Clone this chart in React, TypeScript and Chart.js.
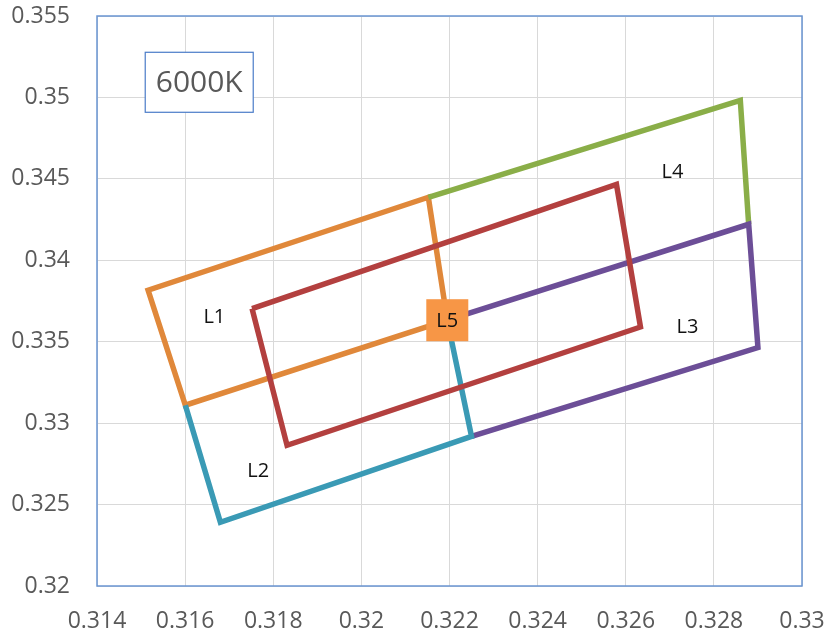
import { useEffect, useRef } from "react";
import { Chart, registerables } from "chart.js";

Chart.register(...registerables);

// Vertices (CIE x, y) of each bin outline
const L5Center = { x: 0.32195, y: 0.33632 };
const redX = [0.317519, 0.325789, 0.326334, 0.318313, 0.317519];
const redY = [0.337033, 0.344666, 0.335903, 0.328639, 0.337033];
const tealX = [0.316005, 0.3168, 0.3225, 0.32195];
const tealY = [0.3311, 0.32391, 0.32919, 0.33632];
const purpleX = [0.32195, 0.32879, 0.329, 0.3225];
const purpleY = [0.33632, 0.34221, 0.33464, 0.32919];
const greenX = [0.32152, 0.3286, 0.32879];
const greenY = [0.34387, 0.34982, 0.34221];
const orangeX = [0.32195, 0.32152, 0.31516, 0.316005, 0.32195];
const orangeY = [0.33632, 0.34387, 0.33816, 0.3311, 0.33632];

// Text labels
const labelNames = ["L1", "L2", "L3", "L4"];
const labelX = [0.316663, 0.31766, 0.3274, 0.32706];
const labelY = [0.3365, 0.32704, 0.33589, 0.3454];
const boxLabel = "L5";
const titleText = "6000K";
const titlePos = { x: 0.31632, y: 0.35093 };

const xMin = 0.314, xMax = 0.33, xStep = 0.002;
const yMin = 0.32, yMax = 0.355, yStep = 0.005;

const zip = (xs: number[], ys: number[]) => xs.map((x, i) => ({ x, y: ys[i] }));

const FONT = "'Open Sans', 'DejaVu Sans', sans-serif";

const overlay = {
  id: "overlay",
  afterDatasetsDraw(chart: any) {
    const { ctx, chartArea, scales } = chart;
    const xs = scales.x, ys = scales.y;
    ctx.save();
    // plot border
    ctx.strokeStyle = "#6A95D2";
    ctx.lineWidth = 1.5;
    ctx.strokeRect(chartArea.left, chartArea.top, chartArea.right - chartArea.left, chartArea.bottom - chartArea.top);
    // labels
    ctx.fillStyle = "#111";
    ctx.font = `20px ${FONT}`;
    ctx.textAlign = "center";
    ctx.textBaseline = "middle";
    labelNames.forEach((n, i) => {
      ctx.fillText(n, xs.getPixelForValue(labelX[i]), ys.getPixelForValue(labelY[i]));
    });
    // L5 box
    const cx = xs.getPixelForValue(L5Center.x), cy = ys.getPixelForValue(L5Center.y);
    ctx.fillStyle = "#F79646";
    ctx.fillRect(cx - 21, cy - 21, 42, 42);
    ctx.fillStyle = "#111";
    ctx.fillText(boxLabel, cx, cy + 1);
    // title box
    const tx = xs.getPixelForValue(titlePos.x), ty = ys.getPixelForValue(titlePos.y);
    ctx.fillStyle = "#fff";
    ctx.fillRect(tx - 54, ty - 30, 108, 60);
    ctx.strokeStyle = "#4A7CC8";
    ctx.lineWidth = 1.2;
    ctx.strokeRect(tx - 54, ty - 30, 108, 60);
    ctx.fillStyle = "#595959";
    ctx.font = `30px ${FONT}`;
    ctx.fillText(titleText, tx, ty + 1);
    ctx.restore();
  },
};

export default function App() {
  const ref = useRef<HTMLCanvasElement>(null);
  useEffect(() => {
    document.body.style.margin = "0";
    const ds = (xs: number[], ys: number[], color: string) => ({
      data: zip(xs, ys),
      showLine: true,
      borderColor: color,
      backgroundColor: color,
      borderWidth: 5.5,
      pointRadius: 0,
      fill: false,
      tension: 0,
      borderJoinStyle: "miter" as const,
    });
    const chart = new Chart(ref.current!, {
      type: "scatter",
      data: {
        datasets: [
          ds(redX, redY, "#B3403F"),
          ds(tealX, tealY, "#3A9AB5"),
          ds(purpleX, purpleY, "#6C4E97"),
          ds(greenX, greenY, "#8AAE48"),
          ds(orangeX, orangeY, "#E0883A"),
        ],
      },
      options: {
        responsive: false,
        animation: false,
        layout: { padding: { left: 0, right: 23, top: 16, bottom: 0 } },
        plugins: { legend: { display: false }, tooltip: { enabled: false } },
        scales: {
          x: {
            type: "linear",
            min: xMin,
            max: xMax,
            ticks: {
              stepSize: xStep,
              padding: 22,
              color: "#595959",
              font: { size: 23, family: FONT },
              callback: (v: any) => String(Math.round(Number(v) * 1000) / 1000),
            },
            grid: { color: "#D9D9D9", lineWidth: 1, drawTicks: false },
            border: { display: false },
            afterFit: (s: any) => {
              s.height = 49;
              s.paddingLeft = 0;
              s.paddingRight = 0;
            },
          },
          y: {
            type: "linear",
            min: yMin,
            max: yMax,
            ticks: {
              stepSize: yStep,
              padding: 27,
              color: "#595959",
              font: { size: 23, family: FONT },
              callback: (v: any) => String(Math.round(Number(v) * 1000) / 1000),
            },
            grid: { color: "#D9D9D9", lineWidth: 1, drawTicks: false },
            border: { display: false },
            afterFit: (s: any) => {
              s.width = 97;
              s.paddingTop = 0;
              s.paddingBottom = 0;
            },
          },
        },
      },
      plugins: [overlay],
    });
    return () => chart.destroy();
  }, []);
  return <canvas ref={ref} width={825} height={635} />;
}
